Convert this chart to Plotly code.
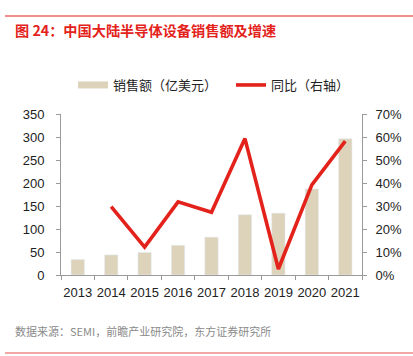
import plotly.graph_objects as go

years = ["2013", "2014", "2015", "2016", "2017", "2018", "2019", "2020", "2021"]
sales = [33.7, 43.7, 49.0, 64.6, 82.3, 131.1, 134.5, 187.2, 296.2]
growth = [None, 0.297, 0.121, 0.318, 0.273, 0.593, 0.026, 0.392, 0.582]

bar_color = "#ddd3bb"
line_color = "#e3231b"
axis_color = "#9a9a9a"
num_font = "Liberation Sans, Arial, sans-serif"
cjk_font = "Noto Sans CJK SC, sans-serif"

W, Hh = 413.0, 356.0
PL, PR, PT, PB = 61.0, 362.0, 114.0, 275.0  # plot area in px


def px(x):
    return x / W


def py(y):
    return 1 - y / Hh


def dx(x):
    return (x - PL) / (PR - PL)


def dy(y):
    return (PB - y) / (PB - PT)


fig = go.Figure()
fig.add_trace(go.Bar(x=years, y=sales, marker_color=bar_color, width=0.4,
                     showlegend=False, yaxis="y"))
# legend proxy for bars (wide rectangle look)
fig.add_trace(go.Scatter(x=[None], y=[None], mode="lines", name="销售额（亿美元）",
                         line=dict(color=bar_color, width=7)))
fig.add_trace(go.Scatter(x=years, y=growth, mode="lines", name="同比（右轴）",
                         line=dict(color=line_color, width=3.6), yaxis="y2"))

fig.update_layout(
    width=413, height=356,
    margin=dict(l=0, r=0, t=0, b=0, autoexpand=False),
    paper_bgcolor="white", plot_bgcolor="white",
    font=dict(family=num_font, size=13, color="#222"),
    xaxis=dict(type="category", domain=[px(PL), px(PR)], tickson="boundaries",
               ticks="outside", ticklen=4,
               tickcolor=axis_color, showline=True, linecolor=axis_color, linewidth=1,
               showgrid=False, ticklabelstandoff=5, tickangle=0, automargin=False,
               tickfont=dict(family=num_font, size=13, color="#222")),
    yaxis=dict(range=[0, 350], dtick=50, domain=[py(PB), py(PT)],
               ticks="outside", ticklen=4, tickcolor=axis_color,
               showline=True, linecolor=axis_color, showgrid=False, zeroline=False,
               ticklabelstandoff=9, automargin=False,
               tickfont=dict(family=num_font, size=13, color="#222")),
    yaxis2=dict(range=[0, 0.7], dtick=0.1, tickformat=".0%", overlaying="y", side="right",
                ticks="outside", ticklen=4, tickcolor=axis_color, showline=True,
                linecolor=axis_color, showgrid=False, zeroline=False, automargin=False,
                ticklabelstandoff=6, tickfont=dict(family=num_font, size=13, color="#222")),
    legend=dict(orientation="h", x=px(73), xanchor="left", y=py(85), yanchor="middle",
                font=dict(family=cjk_font, size=13, color="#222"),
                itemwidth=30, tracegroupgap=0, bgcolor="rgba(0,0,0,0)",
                entrywidth=113, entrywidthmode="pixels"),
    shapes=[
        dict(type="line", xref="x domain", yref="y domain", x0=dx(5), x1=dx(413),
             y0=dy(16), y1=dy(16), layer="above",
             line=dict(color="#ec6a66", width=1.5)),
        dict(type="line", xref="x domain", yref="y domain", x0=dx(5), x1=dx(413),
             y0=dy(353), y1=dy(353), layer="above",
             line=dict(color="#ec8a88", width=1.5)),
    ],
    annotations=[
        dict(text="<b>图 24：中国大陆半导体设备销售额及增速</b>", xref="paper", yref="paper",
             x=px(13), y=py(30), xanchor="left", yanchor="middle",
             showarrow=False, font=dict(family=cjk_font, size=14.2, color="#e3231b")),
        dict(text="数据来源：SEMI，前瞻产业研究院，东方证券研究所", xref="paper", yref="paper",
             x=px(13), y=py(331), xanchor="left", yanchor="middle",
             showarrow=False, font=dict(family=cjk_font, size=11, color="#8a8a8a")),
    ],
)

fig.write_html("out.html", config={"displayModeBar": False},
               post_script="document.body.style.margin='0';")
